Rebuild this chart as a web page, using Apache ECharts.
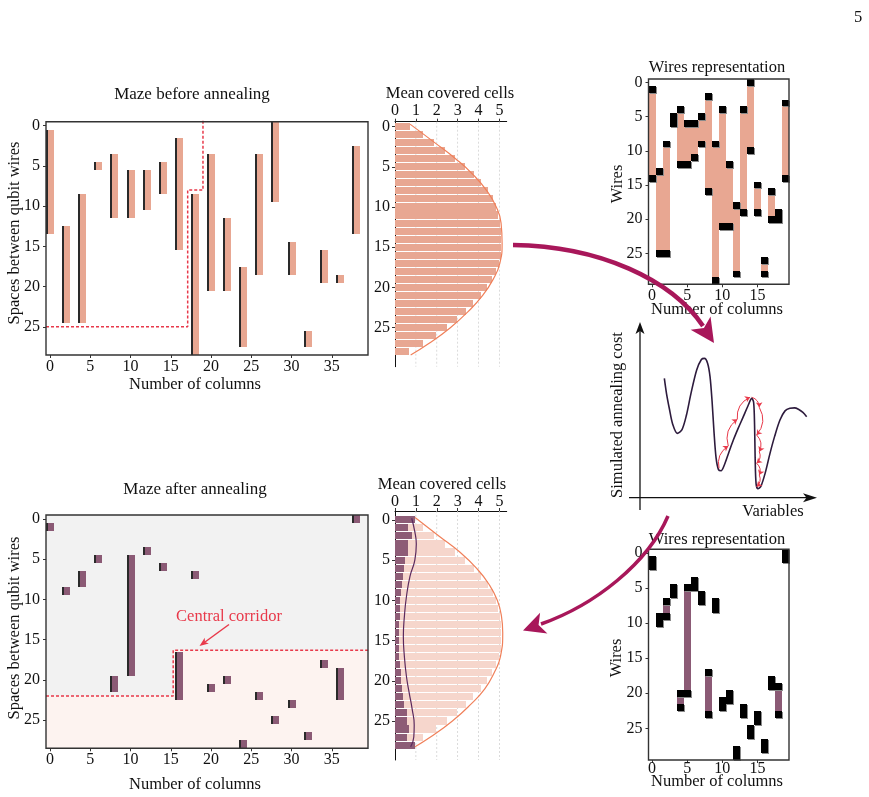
<!DOCTYPE html>
<html>
<head>
<meta charset="utf-8">
<script src="https://cdn.jsdelivr.net/npm/echarts@6/dist/echarts.min.js"></script>
<style>
  html, body { margin: 0; padding: 0; background: #fff; }
  #chart { width: 869px; height: 797px; }
</style>
</head>
<body>
<div id="chart"></div>
<script>
const mazeTicks = [0, 5, 10, 15, 20, 25, 30, 35];
const rowTicks = [0, 5, 10, 15, 20, 25];
const meanTicks = [0, 1, 2, 3, 4, 5];
const meanGrid = [1, 2, 3, 4, 5];
const wireColTicks = [0, 5, 10, 15];

// maze bars: [column, first row, last row]
const mazeBefore = [
  [0, 1, 13], [2, 13, 24], [4, 9, 24], [6, 5, 5], [8, 4, 11], [10, 6, 11], [12, 6, 10],
  [14, 5, 8], [16, 2, 15], [18, 9, 28], [20, 4, 20], [22, 12, 20], [24, 18, 27], [26, 4, 18],
  [28, 0, 9], [30, 15, 18], [32, 26, 27], [34, 16, 19], [36, 19, 19], [38, 3, 13]
];
const mazeAfter = [
  [0, 1, 1], [2, 9, 9], [4, 7, 8], [6, 5, 5], [8, 20, 21], [10, 5, 19], [12, 4, 4],
  [14, 6, 6], [16, 17, 22], [18, 7, 7], [20, 21, 21], [22, 20, 20], [24, 28, 28], [26, 22, 22],
  [28, 25, 25], [30, 23, 23], [32, 27, 27], [34, 18, 18], [36, 19, 22], [38, 0, 0]
];
const corridorBefore = [[-0.5, 25], [17.1, 25], [17.1, 8], [19, 8], [19, -0.75]];
const corridorAfter = [[-0.5, 22], [15.3, 22], [15.3, 16.3], [39.6, 16.3]];

// mean covered cells per row (rows 0..28)
const meanBefore = [0.72, 1.32, 1.87, 2.39, 2.87, 3.35, 3.78, 4.11, 4.47, 4.67, 4.83, 4.95, 5.02, 5.07, 5.1,
  5.1, 5.06, 5.0, 4.85, 4.65, 4.4, 4.1, 3.75, 3.38, 2.95, 2.47, 1.95, 1.32, 0.67];
const meanAfter = [0.96, 0.6, 0.8, 0.64, 0.6, 0.48, 0.45, 0.37, 0.32, 0.27, 0.24, 0.24, 0.24, 0.21, 0.18,
  0.18, 0.18, 0.21, 0.24, 0.29, 0.27, 0.32, 0.4, 0.43, 0.56, 0.56, 0.69, 0.56, 0.96];
// fitted curves: [value, row]
const fitBefore = [[0.72, -0.3], [1.9, 2], [2.9, 4], [3.75, 6], [4.4, 8], [4.85, 10], [5.08, 12], [5.13, 14.5],
  [5.02, 17], [4.7, 19], [4.2, 21], [3.5, 23], [2.65, 25], [1.6, 27], [0.75, 28.4]];
const fitBeforeRef = [[0.96, -0.3], [2.1, 2], [3.1, 4], [3.9, 6], [4.5, 8], [4.9, 10], [5.1, 12], [5.16, 14],
  [5.05, 17], [4.75, 19], [4.3, 21], [3.6, 23], [2.75, 25], [1.7, 27], [0.96, 28.2]];
const fitAfter = [[0.8, -0.2], [0.95, 1.5], [1.02, 3], [0.95, 5], [0.72, 7], [0.55, 9.5], [0.45, 12], [0.4, 14.5],
  [0.45, 17], [0.55, 19.5], [0.68, 21.5], [0.82, 23.5], [0.92, 25.5], [0.9, 27], [0.75, 28.2]];

// wires: black end cells [column, row], filled spans [column, first row, last row]
const wiresBeforeEnds = [
  [0, 1], [0, 14], [1, 13], [1, 25], [2, 9], [2, 25], [3, 5], [3, 6], [4, 4], [4, 12], [5, 6], [5, 12],
  [6, 6], [6, 11], [7, 5], [7, 9], [8, 2], [8, 16], [9, 9], [9, 29], [10, 4], [10, 21], [11, 12], [11, 21],
  [12, 18], [12, 28], [13, 4], [13, 19], [14, 0], [14, 10], [15, 15], [15, 19], [16, 26], [16, 28],
  [17, 16], [17, 20], [18, 19], [18, 20], [19, 3], [19, 14]
];
const wiresBeforeFill = [
  [0, 2, 13], [1, 14, 24], [2, 10, 24], [4, 5, 11], [5, 7, 11], [6, 7, 10], [7, 6, 8], [8, 3, 15],
  [9, 10, 28], [10, 5, 20], [11, 13, 20], [12, 19, 27], [13, 5, 18], [14, 1, 9], [15, 16, 18],
  [16, 27, 27], [17, 17, 19], [19, 4, 13]
];
const wiresAfterEnds = [
  [0, 1], [0, 2], [1, 9], [1, 10], [2, 7], [2, 9], [3, 5], [3, 6], [4, 20], [4, 22], [5, 5], [5, 20],
  [6, 4], [6, 5], [7, 6], [7, 7], [8, 17], [8, 23], [9, 7], [9, 8], [10, 21], [10, 22], [11, 20], [11, 21],
  [12, 28], [12, 29], [13, 22], [13, 23], [14, 25], [14, 26], [15, 23], [15, 24], [16, 27], [16, 28],
  [17, 18], [17, 19], [18, 19], [18, 23], [19, 0], [19, 1]
];
const wiresAfterFill = [[2, 8, 8], [4, 21, 21], [5, 6, 19], [8, 18, 22], [18, 20, 22]];

// simulated annealing sketch, [variable, cost] in 0..100 units
const costCurve = [
  [18.8, 70.4], [20.0, 62.0], [21.5, 54.0], [23.2, 46.0], [25.7, 41.0], [28.2, 43.0], [30.5, 50.5],
  [33.0, 62.5], [36.0, 74.9], [38.5, 80.5], [40.1, 81.1], [41.8, 78.5], [43.1, 71.3], [44.2, 58.0],
  [45.2, 42.0], [46.3, 28.0], [47.6, 21.6], [49.0, 21.0], [50.5, 23.5], [53.0, 30.5], [55.5, 37.4],
  [58.0, 43.5], [60.8, 49.9], [63.2, 55.5], [65.3, 59.7], [66.3, 57.5], [66.8, 45.0], [67.1, 28.0],
  [67.6, 14.0], [68.6, 11.4], [70.2, 12.8], [72.5, 20.0], [75.0, 30.3], [77.5, 39.5], [80.3, 48.1],
  [83.0, 53.0], [85.6, 54.4], [88.0, 54.6], [90.1, 53.9], [92.5, 52.2], [94.5, 49.9]
];
const hops = [
  [47.9, 22.3, 52.8, 34.2], [52.8, 34.2, 57.6, 48.5], [57.6, 48.5, 64.4, 60.3],
  [65.3, 60.3, 69.3, 54.9], [69.3, 54.9, 67.9, 40.1], [67.9, 40.1, 69.3, 31.2],
  [69.3, 31.2, 67.9, 25.0], [67.9, 25.0, 69.3, 18.7], [69.3, 18.7, 67.9, 12.5]
];

const serif = '"Liberation Serif", "DejaVu Serif", serif';
const salmon = '#E8A792';
const plum = '#8B5A75';
const red = '#E8394A';
const magenta = '#A8175A';

const chart = echarts.init(document.getElementById('chart'));

// pixel-snapped rectangle between two data corners (avoids seams between neighbours)
function cellRect(api, c0, c1, r0, r1) {
  const a = api.coord([c0, r0]);
  const b = api.coord([c1, r1]);
  const x0 = Math.round(Math.min(a[0], b[0])), x1 = Math.round(Math.max(a[0], b[0]));
  const y0 = Math.round(Math.min(a[1], b[1])), y1 = Math.round(Math.max(a[1], b[1]));
  return { x: x0, y: y0, width: x1 - x0, height: y1 - y0 };
}

function mazeSeries(data, gi, color) {
  return {
    type: 'custom', xAxisIndex: gi, yAxisIndex: gi, z: 3, data: data,
    renderItem: function (params, api) {
      const c = api.value(0);
      const s = cellRect(api, c - 0.5, c + 0.5, api.value(1) - 0.5, api.value(2) + 0.5);
      return {
        type: 'group',
        children: [
          { type: 'rect', shape: { x: s.x, y: s.y, width: 2, height: s.height }, style: { fill: '#2a2a2a', lineWidth: 0 } },
          { type: 'rect', shape: { x: s.x + 2, y: s.y, width: s.width - 2, height: s.height }, style: { fill: color, lineWidth: 0 } }
        ]
      };
    }
  };
}

function wiresSeries(ends, fill, gi, color) {
  return [{
    type: 'custom', xAxisIndex: gi, yAxisIndex: gi, z: 3, data: fill,
    renderItem: function (params, api) {
      const c = api.value(0);
      return {
        type: 'rect',
        shape: cellRect(api, c - 0.5, c + 0.5, api.value(1) - 0.5, api.value(2) + 0.5),
        style: { fill: color, lineWidth: 0 }
      };
    }
  }, {
    type: 'custom', xAxisIndex: gi, yAxisIndex: gi, z: 4, data: ends,
    renderItem: function (params, api) {
      const c = api.value(0), r = api.value(1);
      const s = cellRect(api, c - 0.5, c + 0.5, r - 0.5, r + 0.5);
      return {
        type: 'group',
        children: [
          { type: 'rect', shape: { x: s.x + 1, y: s.y + 1, width: s.width, height: s.height }, style: { fill: '#8a8a8a', lineWidth: 0 } },
          { type: 'rect', shape: s, style: { fill: '#000', lineWidth: 0 } }
        ]
      };
    }
  }];
}

function histSeries(vals, gi, color, z) {
  return {
    type: 'custom', xAxisIndex: gi, yAxisIndex: gi, z: z,
    data: vals.map(function (v, i) { return [v, i]; }),
    renderItem: function (params, api) {
      const r = api.value(1);
      return {
        type: 'rect',
        shape: cellRect(api, 0, api.value(0), r - 0.44, r + 0.44),
        style: { fill: color, lineWidth: 0 }
      };
    }
  };
}

function histGridLines(gi) {
  return {
    type: 'custom', xAxisIndex: gi, yAxisIndex: gi, z: 1, silent: true,
    data: meanGrid.map(function (v) { return [v, 0]; }),
    renderItem: function (params, api) {
      const p = api.coord([api.value(0), 0]);
      const cs = params.coordSys;
      return {
        type: 'line',
        shape: { x1: p[0], y1: cs.y, x2: p[0], y2: cs.y + cs.height },
        style: { stroke: '#d2d2d2', lineWidth: 0.8, lineDash: [2, 2] }
      };
    }
  };
}

function frameSeries(gi) {
  return {
    type: 'custom', xAxisIndex: gi, yAxisIndex: gi, z: 10, silent: true, data: [[0, 0]],
    renderItem: function (params) {
      const cs = params.coordSys;
      return {
        type: 'rect',
        shape: { x: cs.x, y: cs.y, width: cs.width, height: cs.height },
        style: { fill: 'none', stroke: '#333', lineWidth: 1.4 }
      };
    }
  };
}

function fitLine(data, gi, color, width) {
  return {
    type: 'line', xAxisIndex: gi, yAxisIndex: gi, z: 6, data: data, smooth: true,
    showSymbol: false, clip: false, silent: true,
    lineStyle: { color: color, width: width }
  };
}

function axis(gi, min, max, ticks, extra) {
  const o = {
    type: 'value', gridIndex: gi, min: min, max: max,
    axisLine: { show: false, onZero: false },
    axisTick: { show: true, length: 3, customValues: ticks, lineStyle: { color: '#333' } },
    axisLabel: { customValues: ticks, fontFamily: serif, fontSize: 16, color: '#111', margin: 4 },
    splitLine: { show: false }
  };
  if (extra.position) o.position = extra.position;
  if (extra.inverse) o.inverse = true;
  if (extra.line) o.axisLine = { show: true, onZero: false, lineStyle: { color: '#111', width: 1 } };
  if (extra.margin !== undefined) o.axisLabel.margin = extra.margin;
  if (extra.hide) o.show = false;
  return o;
}

function text(str, x, y, opts) {
  opts = opts || {};
  return {
    type: 'text', x: x, y: y, rotation: opts.rotation || 0, silent: true, z: 20,
    style: {
      text: str, fill: opts.color || '#111', font: (opts.size || 16.5) + 'px ' + serif,
      align: 'center', verticalAlign: 'middle'
    }
  };
}

function arrowHead(tip, dir, len, half, color) {
  const n = Math.hypot(dir[0], dir[1]);
  const ux = dir[0] / n, uy = dir[1] / n;
  const bx = tip[0] - ux * len, by = tip[1] - uy * len;
  return {
    type: 'polygon', silent: true, z: 20,
    shape: { points: [tip, [bx - uy * half, by + ux * half], [tip[0] - ux * len * 0.75, tip[1] - uy * len * 0.75], [bx + uy * half, by - ux * half]] },
    style: { fill: color }
  };
}

const upperRegion = [[-0.5, -0.5], [39.5, -0.5], [39.5, 16.3], [15.3, 16.3], [15.3, 22], [-0.5, 22]];

const option = {
  animation: false,
  backgroundColor: '#fff',
  grid: [
    { left: 46, top: 121.7, width: 322, height: 233.3 },
    { left: 395, top: 121.7, width: 111.7, height: 245 },
    { left: 648.5, top: 79, width: 140.5, height: 205.3 },
    { left: 629, top: 323, width: 188, height: 187 },
    { left: 46, top: 515, width: 322, height: 233.3, show: true, backgroundColor: '#FDF3F0', borderWidth: 0 },
    { left: 395, top: 511, width: 111.7, height: 249 },
    { left: 648.5, top: 549.3, width: 140.5, height: 210.7 }
  ],
  xAxis: [
    axis(0, -0.5, 39.5, mazeTicks, { margin: 4 }),
    axis(1, 0, 5.35, meanTicks, { position: 'top', line: true, margin: 3 }),
    axis(2, -0.5, 19.5, wireColTicks, { margin: 3 }),
    axis(3, 0, 100, [], { hide: true }),
    axis(4, -0.5, 39.5, mazeTicks, { margin: 3 }),
    axis(5, 0, 5.35, meanTicks, { position: 'top', line: true, margin: 1 }),
    axis(6, -0.5, 19.5, wireColTicks, { margin: 1 })
  ],
  yAxis: [
    axis(0, -0.5, 28.5, rowTicks, { inverse: true, margin: 6 }),
    axis(1, -0.6, 29.85, rowTicks, { inverse: true, line: true, margin: 5 }),
    axis(2, -0.5, 29.5, rowTicks, { inverse: true, margin: 6 }),
    axis(3, 0, 100, [], { hide: true }),
    axis(4, -0.5, 28.5, rowTicks, { inverse: true, margin: 6 }),
    axis(5, -1.1, 29.85, rowTicks, { inverse: true, line: true, margin: 5 }),
    axis(6, -0.5, 29.5, rowTicks, { inverse: true, margin: 6 })
  ],
  series: [
    // maze before
    mazeSeries(mazeBefore, 0, salmon),
    {
      type: 'line', xAxisIndex: 0, yAxisIndex: 0, z: 5, data: corridorBefore, showSymbol: false,
      clip: false, silent: true, lineStyle: { color: red, width: 1.5, type: [3, 2] }
    },
    frameSeries(0),
    // histogram before
    histGridLines(1),
    histSeries(meanBefore, 1, salmon, 3),
    fitLine(fitBefore, 1, '#F0805A', 1.2),
    // wires before
    ...wiresSeries(wiresBeforeEnds, wiresBeforeFill, 2, salmon),
    frameSeries(2),
    // annealing sketch
    {
      type: 'line', xAxisIndex: 3, yAxisIndex: 3, z: 5, data: costCurve, smooth: 0.3,
      showSymbol: false, silent: true, lineStyle: { color: '#2D1B3D', width: 1.6 }
    },
    {
      type: 'lines', coordinateSystem: 'cartesian2d', xAxisIndex: 3, yAxisIndex: 3, z: 6, silent: true,
      symbol: ['none', 'arrow'], symbolSize: 5,
      lineStyle: { color: red, width: 1, curveness: 0.35, opacity: 1 },
      data: hops.map(function (h) { return { coords: [[h[0], h[1]], [h[2], h[3]]] }; })
    },
    // maze after
    {
      type: 'custom', xAxisIndex: 4, yAxisIndex: 4, z: 1, silent: true, data: [[0, 0]],
      renderItem: function (params, api) {
        return { type: 'polygon', shape: { points: upperRegion.map(function (p) { return api.coord(p); }) }, style: { fill: '#F2F2F2', lineWidth: 0 } };
      }
    },
    mazeSeries(mazeAfter, 4, plum),
    {
      type: 'line', xAxisIndex: 4, yAxisIndex: 4, z: 5, data: corridorAfter, showSymbol: false,
      clip: false, silent: true, lineStyle: { color: red, width: 1.5, type: [3, 2] }
    },
    frameSeries(4),
    // histogram after
    histGridLines(5),
    histSeries(meanBefore, 5, '#F6D6CC', 2),
    histSeries(meanAfter, 5, '#8D5C76', 3),
    fitLine(fitBeforeRef, 5, '#F0805A', 1.2),
    fitLine(fitAfter, 5, '#5B2A5E', 1.2),
    // wires after
    ...wiresSeries(wiresAfterEnds, wiresAfterFill, 6, plum),
    frameSeries(6)
  ],
  graphic: [
    text('5', 858, 18),
    text('Maze before annealing', 192, 95, { size: 17 }),
    text('Number of columns', 195, 385),
    text('Spaces between qubit wires', 15, 233, { rotation: Math.PI / 2 }),
    text('Mean covered cells', 450, 93.5),
    text('Wires representation', 717, 68),
    text('Number of columns', 717, 310),
    text('Wires', 618, 184, { rotation: Math.PI / 2 }),
    text('Simulated annealing cost', 618, 415, { rotation: Math.PI / 2 }),
    text('Variables', 773, 512),
    text('Maze after annealing', 195, 490, { size: 17 }),
    text('Number of columns', 195, 785),
    text('Spaces between qubit wires', 15, 628, { rotation: Math.PI / 2 }),
    text('Mean covered cells', 442, 485),
    text('Wires representation', 717, 540),
    text('Number of columns', 717, 782),
    text('Wires', 617, 658, { rotation: Math.PI / 2 }),
    text('Central corridor', 229, 617, { color: red }),
    // sketch axes
    { type: 'line', silent: true, z: 20, shape: { x1: 640, y1: 510, x2: 640, y2: 330 }, style: { stroke: '#111', lineWidth: 1.3 } },
    arrowHead([640, 322], [0, -1], 12, 4.5, '#111'),
    { type: 'line', silent: true, z: 20, shape: { x1: 629, y1: 497.7, x2: 808, y2: 497.7 }, style: { stroke: '#111', lineWidth: 1.3 } },
    arrowHead([817, 497.7], [1, 0], 14, 4.5, '#111'),
    // corridor pointer
    { type: 'line', silent: true, z: 20, shape: { x1: 229, y1: 624.5, x2: 205, y2: 642 }, style: { stroke: red, lineWidth: 1.5 } },
    arrowHead([199.5, 646], [-24, 17.5], 9, 3.5, red),
    // big arrows
    { type: 'bezierCurve', silent: true, z: 20, shape: { x1: 513, y1: 245, cpx1: 600, cpy1: 246, cpx2: 672, cpy2: 280, x2: 703, y2: 326 }, style: { stroke: magenta, lineWidth: 4.5, fill: 'none' } },
    arrowHead([714, 343], [31, 46], 24, 12, magenta),
    { type: 'bezierCurve', silent: true, z: 20, shape: { x1: 668, y1: 516, cpx1: 648, cpy1: 563, cpx2: 595, cpy2: 605, x2: 541, y2: 624 }, style: { stroke: magenta, lineWidth: 3.5, fill: 'none' } },
    arrowHead([523, 630.5], [-54, 19], 22, 11, magenta)
  ]
};

chart.setOption(option);
</script>
</body>
</html>
